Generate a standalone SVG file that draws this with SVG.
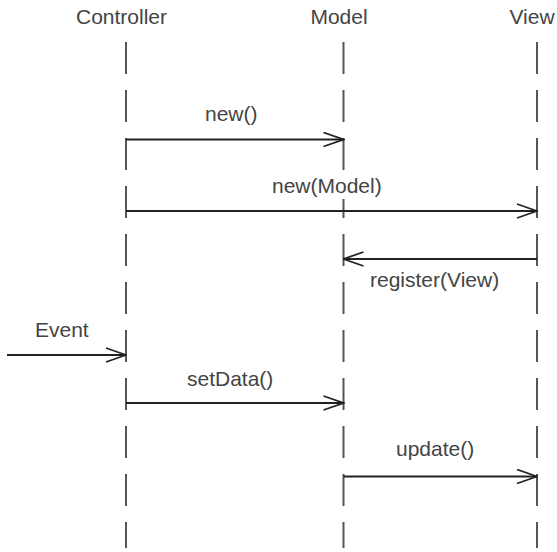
<svg xmlns="http://www.w3.org/2000/svg" width="557" height="552" viewBox="0 0 557 552">
<style>
text{font-family:"Liberation Sans",Arial,sans-serif;font-size:21px;fill:#444}
.life{stroke:#555;stroke-width:2;stroke-dasharray:32 16;fill:none}
.msg{stroke:#222;stroke-width:1.8;fill:none}
.bg{fill:#fff}
</style>
<defs>
<marker id="open" viewBox="0 0 22 16" refX="21" refY="8" markerWidth="22" markerHeight="16" markerUnits="userSpaceOnUse" orient="auto">
<path d="M1,1 L21,8 L1,15" fill="none" stroke="#222" stroke-width="1.8"/>
</marker>
</defs>
<rect width="557" height="552" fill="#fff"/>
<g id="controller">
<text x="121.5" y="24" text-anchor="middle">Controller</text>
<line class="life" x1="126" y1="42" x2="126" y2="548"/>
</g>
<g id="model">
<text x="339" y="24" text-anchor="middle">Model</text>
<line class="life" x1="343.5" y1="42" x2="343.5" y2="548"/>
</g>
<g id="view">
<text x="532" y="24" text-anchor="middle">View</text>
<line class="life" x1="537" y1="42" x2="537" y2="548"/>
</g>
<g id="connectors">
<line class="msg" x1="126" y1="139.5" x2="343.5" y2="139.5" marker-end="url(#open)"/>
<text x="205" y="121">new()</text>
<line class="msg" x1="126" y1="211" x2="537" y2="211" marker-end="url(#open)"/>
<rect class="bg" x="270" y="172" width="116" height="27"/>
<text x="272" y="193">new(Model)</text>
<line class="msg" x1="537" y1="259" x2="343.5" y2="259" marker-end="url(#open)"/>
<text x="370" y="287">register(View)</text>
<line class="msg" x1="7" y1="355" x2="126" y2="355" marker-end="url(#open)"/>
<text x="35" y="337">Event</text>
<line class="msg" x1="126" y1="403" x2="343.5" y2="403" marker-end="url(#open)"/>
<text x="187" y="386">setData()</text>
<line class="msg" x1="343.5" y1="476.5" x2="537" y2="476.5" marker-end="url(#open)"/>
<text x="396" y="456">update()</text>
</g>
</svg>
